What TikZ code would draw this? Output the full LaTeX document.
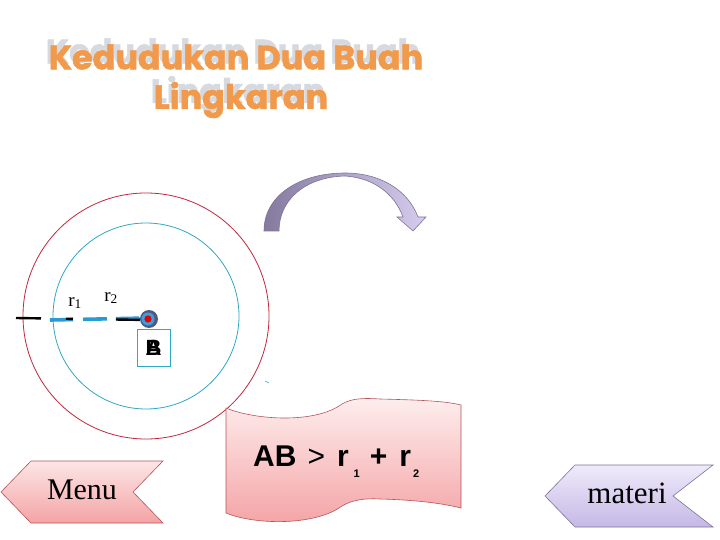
\documentclass[tikz,border=0pt]{standalone}
\usepackage{fontspec}
\setmainfont{Liberation Serif}
\newfontfamily\titlefont{Poppins}[BoldFeatures={FakeBold=1.6}]
\newfontfamily\sansfont{Liberation Sans}
\definecolor{ringred}{HTML}{C0283C}
\definecolor{ringcyan}{HTML}{2FA8C2}
\definecolor{titleorange}{HTML}{F29A4C}
\definecolor{titleshadow}{HTML}{D6D9E0}
\definecolor{pinklight}{HTML}{FDE6E6}
\definecolor{pinkdark}{HTML}{F4A3A5}
\definecolor{pinkedge}{HTML}{B5535A}
\definecolor{lavlight}{HTML}{EFEBFA}
\definecolor{lavdark}{HTML}{C5B8E6}
\definecolor{lavedge}{HTML}{7D7399}
\definecolor{dotslate}{HTML}{4E5A7E}
\definecolor{dotblue}{HTML}{3C9EDC}
\definecolor{lineblue}{HTML}{2A9AD4}
\usetikzlibrary{positioning}
\newcommand{\lowdigit}[1]{\raisebox{-11pt}{\fontsize{11}{11}\selectfont\bfseries #1}}

\begin{document}
\begin{tikzpicture}[x=1pt,y=-1pt]
\tikzset{ring/.style={draw=#1,line width=0.8pt},
	titletext/.style={font=\titlefont\bfseries\fontsize{33.5}{38}\selectfont,inner sep=0pt},
	navbox/.style={draw=pinkedge,line width=0.6pt,top color=pinklight,bottom color=pinkdark},
	navlav/.style={draw=lavedge,line width=0.6pt,top color=lavlight,bottom color=lavdark},
	navtext/.style={font=\fontsize{30}{34}\selectfont,inner sep=0pt},
	radlabel/.style={font=\fontsize{19}{22}\selectfont,inner sep=0pt}}
\useasboundingbox (0,0) rectangle (720,540);

% title with its shadow
\foreach \n/\t/\x/\y in {titleA/Kedudukan Dua Buah/236/57,titleB/Lingkaran/241/100}{%
	\node[titletext,text=titleshadow] (\n s) at (\x-3,\y-6) {\t};
	\node[titletext,text=titleorange] (\n) at (\x,\y) {\t};
}%

% the two circles
\draw[ring=ringred] (146,316) circle (123pt);
\draw[ring=ringcyan] (146,316) circle (93pt);
\draw[ringcyan,line width=0.6pt] (265,381) -- (269,383);

% radii
\coordinate (redEnd) at (16,318);
\coordinate (cyanEnd) at (50,320);
\node[circle,inner sep=0pt,minimum size=18pt] (A) at (148,319) {};
\draw[lineblue,line width=3.6pt,dash pattern=on 23pt off 10pt on 24pt off 9pt on 23pt off 20pt] (cyanEnd) -- ([yshift=1pt]A.center);
\draw[lineblue,line width=1.8pt] ([xshift=-12pt,yshift=1pt]A.center) -- (A.center);
\draw[black,line width=2.4pt,dash pattern=on 25pt off 25pt on 7pt off 43pt on 24pt off 20pt] (redEnd) -- ([yshift=-1pt]A.center);
\fill[dotslate] ([xshift=1pt]A.center) circle (9pt);
\fill[dotblue] (A.center) circle (6.5pt);
\fill[red!90!black] (A.center) circle (3.6pt);
\node[radlabel] (r1) at (75,303) {r\textsubscript{1}};
\node[radlabel] (r2) at (111,298) {r\textsubscript{2}};

% label box, A and B on top of each other
\node[draw=ringcyan,line width=0.6pt,minimum width=33pt,minimum height=37pt,inner sep=0pt] (box) at (153.5,347.5) {};
\foreach \l in {A,B}{%
	\node[font=\sansfont\bfseries\fontsize{22}{24}\selectfont,inner sep=0pt] (lab\l) at (box) {\l};
}%

% curved arrow
\shade[left color=lavedge!95,right color=lavdark!70,draw=lavedge,line width=0.6pt]
(264,231) -- (279,231) .. controls (279,200) and (305,177) .. (345,176)
.. controls (375,178) and (395,195) .. (403,217) -- (397,217) -- (413,231) -- (426,217) -- (418,217)
.. controls (408,190) and (380,173) .. (345,173) .. controls (300,173) and (264,195) .. (264,231) -- cycle;

% wave banner
\draw[navbox,top color=pinklight!70,bottom color=pinkdark] (226,408) .. controls (255,420) and (315,424) .. (342,404)
.. controls (352,398) and (365,398) .. (380,399) .. controls (420,400) and (445,401) .. (461,405)
-- (461,508) .. controls (445,504) and (420,500) .. (380,499) .. controls (365,498) and (352,500) .. (342,506)
.. controls (315,526) and (255,525) .. (226,513) -- cycle;
\node[font=\sansfont\fontsize{30}{32}\selectfont,inner sep=0pt,anchor=base west] (rule) at (253,466)
	{\textbf{AB}\hspace{11pt}>\hspace{12pt}\textbf{r}\hspace{5pt}\lowdigit{1}\hspace{10pt}\textbf{+}\hspace{12pt}\textbf{r}\hspace{2pt}\lowdigit{2}};

% navigation arrows
\draw[navbox] (1,492) -- (31,461) -- (163,461) -- (133,492) -- (163,523) -- (31,523) -- cycle;
\node[navtext] (menu) at (82,490) {Menu};
\draw[navlav] (545,496) -- (575,465) -- (713,465) -- (673,496) -- (713,527) -- (575,527) -- cycle;
\node[navtext,font=\fontsize{31}{34}\selectfont] (materi) at (627,493) {materi};
\end{tikzpicture}
\end{document}
